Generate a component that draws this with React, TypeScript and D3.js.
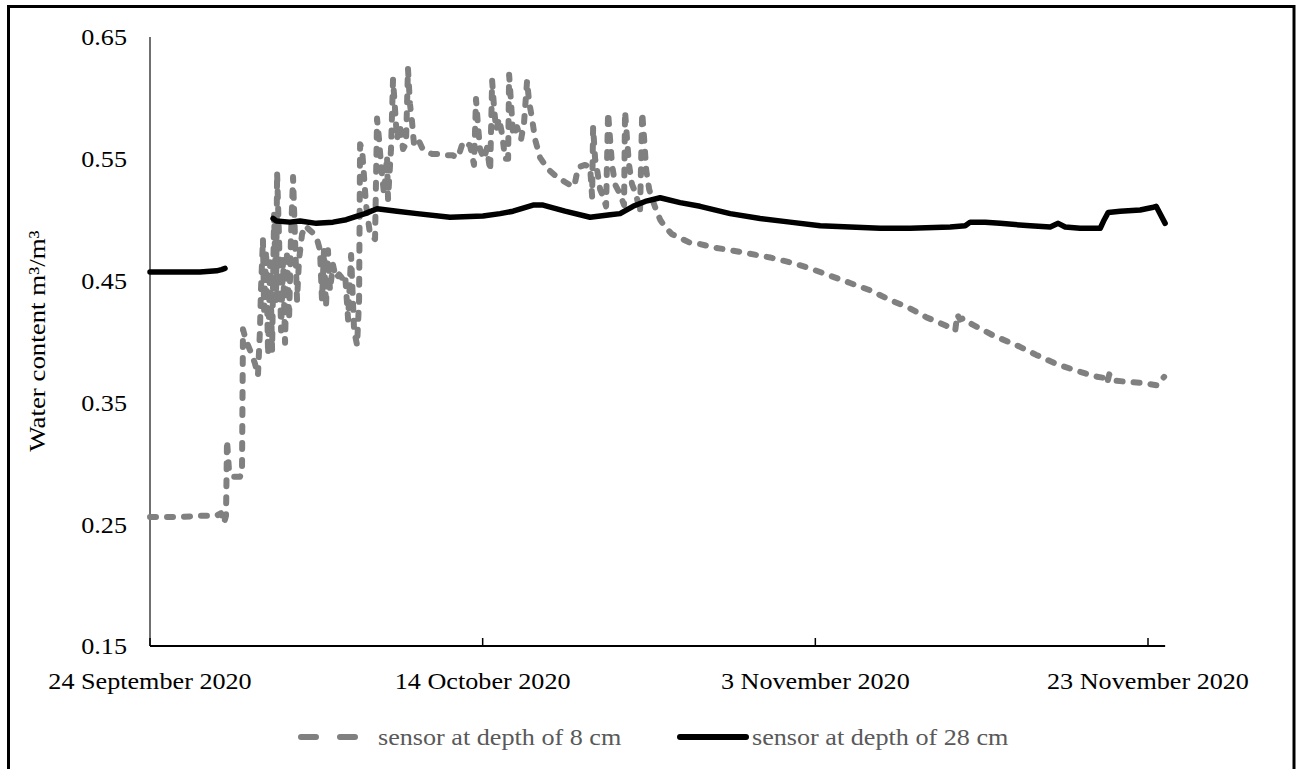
import React from 'react';
import * as d3 from 'd3';

// Time origin of the record and one day in milliseconds
const START_MS = Date.UTC(2020, 8, 24);
const DAY_MS = 86400000;

const yTicks = [0.15, 0.25, 0.35, 0.45, 0.55, 0.65];
const xTickDays = [0, 20, 40, 60];
const yTitle = 'Water content m³/m³';
const seriesNames = ['sensor at depth of 8 cm', 'sensor at depth of 28 cm'];

// [days since 24 Sep 2020, volumetric water content] for the 8 cm sensor
const sensor8cm: [number, number][] = [
  [0, 0.256], [1, 0.256], [2, 0.256], [3, 0.257], [4, 0.257], [4.27, 0.259], [4.45, 0.251],
  [4.57, 0.257], [4.63, 0.319], [4.75, 0.294], [4.99, 0.289], [5.41, 0.289], [5.53, 0.292],
  [5.59, 0.41], [5.77, 0.401], [6.01, 0.393], [6.31, 0.382], [6.49, 0.372], [6.61, 0.409],
  [6.67, 0.442], [6.79, 0.484], [6.86, 0.426], [6.98, 0.475], [7.1, 0.389], [7.22, 0.465],
  [7.34, 0.393], [7.46, 0.504], [7.58, 0.434], [7.64, 0.539], [7.76, 0.484], [7.88, 0.409],
  [8.0, 0.467], [8.12, 0.399], [8.24, 0.475], [8.36, 0.418], [8.48, 0.488], [8.6, 0.535],
  [8.72, 0.484], [8.84, 0.434], [8.96, 0.467], [9.14, 0.488], [9.32, 0.495], [9.56, 0.492],
  [9.8, 0.489], [10.04, 0.484], [10.22, 0.475], [10.34, 0.434], [10.46, 0.475], [10.58, 0.428],
  [10.7, 0.475], [10.82, 0.442], [11.0, 0.463], [11.18, 0.452], [11.37, 0.455], [11.55, 0.452],
  [11.73, 0.455], [11.91, 0.418], [12.09, 0.471], [12.27, 0.409], [12.45, 0.397], [12.57, 0.434],
  [12.63, 0.562], [12.75, 0.558], [12.99, 0.512], [13.23, 0.488], [13.53, 0.484], [13.65, 0.583],
  [13.77, 0.566], [13.89, 0.545], [14.07, 0.521], [14.25, 0.552], [14.31, 0.517], [14.49, 0.558],
  [14.61, 0.615], [14.73, 0.591], [14.85, 0.566], [15.03, 0.578], [15.21, 0.558], [15.39, 0.562],
  [15.51, 0.624], [15.63, 0.595], [15.75, 0.581], [15.87, 0.562], [16.12, 0.566], [16.36, 0.559],
  [16.6, 0.556], [16.96, 0.554], [17.44, 0.554], [17.86, 0.553], [18.16, 0.553], [18.52, 0.551],
  [18.82, 0.564], [19.24, 0.561], [19.48, 0.545], [19.6, 0.599], [19.72, 0.577], [19.84, 0.558],
  [20.08, 0.55], [20.26, 0.559], [20.45, 0.54], [20.57, 0.614], [20.69, 0.591], [20.81, 0.574],
  [20.99, 0.583], [21.17, 0.57], [21.35, 0.55], [21.53, 0.55], [21.59, 0.619], [21.71, 0.595],
  [21.83, 0.569], [22.07, 0.576], [22.31, 0.566], [22.49, 0.58], [22.67, 0.614], [22.79, 0.597],
  [22.97, 0.583], [23.15, 0.566], [23.45, 0.551], [23.75, 0.545], [24.05, 0.54], [24.47, 0.535],
  [24.95, 0.531], [25.44, 0.527], [25.56, 0.531], [25.74, 0.543], [26.16, 0.545], [26.46, 0.543],
  [26.58, 0.519], [26.64, 0.576], [26.76, 0.55], [26.88, 0.541], [27.06, 0.525], [27.24, 0.519],
  [27.42, 0.511], [27.54, 0.588], [27.66, 0.566], [27.78, 0.545], [27.96, 0.529], [28.26, 0.521],
  [28.5, 0.512], [28.56, 0.589], [28.68, 0.566], [28.8, 0.545], [28.98, 0.529], [29.22, 0.521],
  [29.46, 0.506], [29.59, 0.588], [29.71, 0.566], [29.83, 0.541], [30.01, 0.525], [30.19, 0.517],
  [30.43, 0.508], [30.67, 0.5], [30.97, 0.494], [31.39, 0.488], [31.87, 0.485], [32.47, 0.481],
  [33.07, 0.48], [33.97, 0.477], [34.88, 0.475], [36.08, 0.472], [37.28, 0.469], [38.48, 0.465],
  [39.69, 0.46], [40.89, 0.454], [42.09, 0.448], [43.3, 0.442], [44.5, 0.434], [45.58, 0.428],
  [46.66, 0.42], [47.87, 0.413], [48.41, 0.409], [48.53, 0.422], [48.71, 0.418], [48.89, 0.419],
  [49.43, 0.414], [50.69, 0.405], [52.25, 0.396], [53.28, 0.389], [54.42, 0.382], [55.68, 0.376],
  [56.94, 0.371], [57.43, 0.37], [57.55, 0.366], [57.67, 0.373], [57.85, 0.368], [58.69, 0.367],
  [59.65, 0.366], [60.55, 0.364], [60.97, 0.371],
];

// 28 cm sensor; null marks the stretch with no readings
const sensor28cm: [number, number | null][] = [
  [0, 0.457], [1, 0.457], [2, 0.457], [3, 0.457], [4, 0.458], [4.3, 0.459], [4.51, 0.46],
  [5.5, null],
  [7.4, 0.501], [7.6, 0.499], [8.4, 0.498], [9.02, 0.499], [10.0, 0.497], [11.0, 0.498],
  [11.8, 0.5], [12.45, 0.503], [12.93, 0.505], [13.65, 0.509], [14.85, 0.507], [16.06, 0.505],
  [18.04, 0.502], [20.02, 0.503], [21.05, 0.505], [21.83, 0.507], [23.03, 0.512], [23.63, 0.512],
  [24.95, 0.507], [26.46, 0.502], [27.66, 0.504], [28.26, 0.505], [29.04, 0.511], [29.77, 0.515],
  [30.67, 0.518], [31.87, 0.514], [33.07, 0.511], [34.88, 0.505], [36.68, 0.501], [38.48, 0.498],
  [40.29, 0.495], [42.09, 0.494], [43.9, 0.493], [45.7, 0.493], [48.11, 0.494], [49.01, 0.495],
  [49.31, 0.498], [50.21, 0.498], [51.11, 0.497], [52.92, 0.495], [54.12, 0.494], [54.6, 0.497],
  [55.02, 0.494], [55.92, 0.493], [57.13, 0.493], [57.37, 0.5], [57.61, 0.506], [58.33, 0.507],
  [59.53, 0.508], [60.25, 0.51], [60.49, 0.511], [61.03, 0.497],
];

const FONT = '"Liberation Serif", "Times New Roman", serif';
const FS = 24; // lettering size
const SX = 1.09; // horizontal stretch of the lettering
const GRAY = '#808080';

const toDate = (d: number) => new Date(START_MS + d * DAY_MS);

export default function App() {
  const W = 1300;
  const H = 769;
  const x = d3.scaleUtc().domain([toDate(0), toDate(60)]).range([150, 1148]);
  const y = d3.scaleLinear().domain([0.15, 0.65]).range([646, 37]);
  const fmt = d3.utcFormat('%-d %B %Y');

  const line = d3
    .line<[number, number | null]>()
    .defined((p) => p[1] != null)
    .x((p) => x(toDate(p[0])))
    .y((p) => y(p[1] as number));

  const xEnd = x(toDate(sensor28cm[sensor28cm.length - 1][0]));
  const x0 = x(toDate(0));

  return (
    <svg
      width={W}
      height={H}
      style={{ position: 'fixed', left: 0, top: 0, background: '#fff' }}
      fontFamily={FONT}
    >
      <rect x={0} y={0} width={W} height={H} fill="#fff" />
      {/* outer frame */}
      <rect x={8.5} y={6.5} width={1285.5} height={820} fill="none" stroke="#000" strokeWidth={3} />

      {/* y axis */}
      <line x1={x0} x2={x0} y1={y(0.65)} y2={y(0.15)} stroke="#404040" strokeWidth={1.5} />
      {yTicks.map((t) => (
        <text
          key={t}
          transform={`translate(127,${y(t)}) scale(${SX},1)`}
          textAnchor="end"
          dy="0.35em"
          fontSize={FS}
          fill="#000"
        >
          {t.toFixed(2)}
        </text>
      ))}
      <text
        transform={`translate(37,341) rotate(-90) scale(1.12,1)`}
        textAnchor="middle"
        dy="0.35em"
        fontSize={FS}
        fill="#000"
      >
        {yTitle}
      </text>

      {/* series */}
      <path
        d={line(sensor8cm) || ''}
        fill="none"
        stroke={GRAY}
        strokeWidth={6}
        strokeDasharray="6 11"
        strokeLinecap="round"
        strokeLinejoin="round"
      />
      <path
        d={line(sensor28cm) || ''}
        fill="none"
        stroke="#000"
        strokeWidth={5.5}
        strokeLinecap="round"
        strokeLinejoin="round"
      />

      {/* x axis */}
      <line x1={x0} x2={xEnd} y1={y(0.15)} y2={y(0.15)} stroke="#000" strokeWidth={2} />
      {xTickDays.map((d) => {
        const tx = x(toDate(d));
        return (
          <g key={d}>
            <line x1={tx} x2={tx} y1={y(0.15)} y2={y(0.15) - 8} stroke="#000" strokeWidth={1.5} />
            <text
              transform={`translate(${tx},689) scale(${SX},1)`}
              textAnchor="middle"
              fontSize={FS}
              fill="#000"
            >
              {fmt(toDate(d))}
            </text>
          </g>
        );
      })}

      {/* legend */}
      <line
        x1={301}
        x2={357}
        y1={737}
        y2={737}
        stroke={GRAY}
        strokeWidth={6}
        strokeDasharray="15 24"
        strokeLinecap="round"
      />
      <text transform={`translate(378,745) scale(${SX},1)`} fontSize={FS} fill="#595959">
        {seriesNames[0]}
      </text>
      <line x1={680} x2={746} y1={737} y2={737} stroke="#000" strokeWidth={6} strokeLinecap="round" />
      <text transform={`translate(752,745) scale(${SX},1)`} fontSize={FS} fill="#595959">
        {seriesNames[1]}
      </text>
    </svg>
  );
}
